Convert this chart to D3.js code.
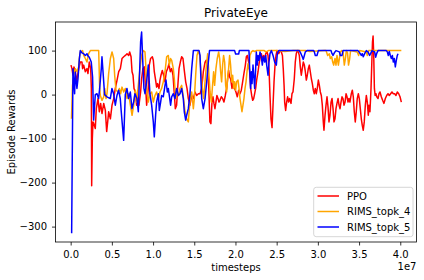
<!DOCTYPE html>
<html>
<head>
<meta charset="utf-8">
<script src="https://cdn.jsdelivr.net/npm/d3@7"></script>
<style>
  body { margin: 0; background: #fff; }
  text { font-family: "DejaVu Sans", sans-serif; }
</style>
</head>
<body>
<script>
// timesteps are in millions, rewards are episode rewards
var ppoSteps = [
  0.04, 0.16, 0.28, 0.40, 0.56, 0.73, 0.97, 1.17, 1.37, 1.45,
  1.58, 1.78, 1.98, 2.10, 2.26, 2.43, 2.51, 2.55, 2.63, 2.71,
  2.79, 2.99, 3.11, 3.32, 3.48, 3.64, 3.80, 4.01, 4.21, 4.37,
  4.53, 4.61, 4.82, 5.02, 5.22, 5.42, 5.63, 5.83, 6.03, 6.23,
  6.44, 6.64, 6.84, 7.04, 7.16, 7.33, 7.45, 7.57, 7.69, 7.85,
  8.00, 8.12, 8.29, 8.49, 8.61, 8.77, 8.93, 9.10, 9.22, 9.42,
  9.54, 9.70, 9.91, 10.03, 10.15, 10.31, 10.43, 10.55, 10.72, 10.84,
  10.96, 11.12, 11.28, 11.45, 11.61, 11.77, 11.93, 12.09, 12.26, 12.42,
  12.58, 12.70, 12.86, 12.98, 13.15, 13.31, 13.47, 13.63, 13.79, 13.96,
  14.12, 14.28, 14.48, 14.69, 14.89, 15.09, 15.29, 15.50, 15.70, 15.90,
  16.10, 16.31, 16.45, 16.60, 16.75, 16.90, 17.02, 17.15, 17.27, 17.39,
  17.51, 17.63, 17.75, 17.88, 18.00, 18.12, 18.28, 18.44, 18.60, 18.77,
  18.93, 19.05, 19.17, 19.29, 19.41, 19.58, 19.74, 19.90, 20.06, 20.22,
  20.39, 20.55, 20.71, 20.87, 21.03, 21.20, 21.32, 21.44, 21.60, 21.72,
  21.84, 21.97, 22.09, 22.21, 22.33, 22.45, 22.57, 22.74, 22.86, 23.02,
  23.14, 23.26, 23.42, 23.55, 23.67, 23.83, 23.95, 24.07, 24.19, 24.31,
  24.44, 24.56, 24.68, 24.80, 24.92, 25.04, 25.25, 25.41, 25.57, 25.70,
  25.80, 25.90, 25.97, 26.09, 26.21, 26.33, 26.45, 26.57, 26.74, 26.86,
  26.98, 27.14, 27.26, 27.38, 27.50, 27.63, 27.75, 27.87, 27.99, 28.11,
  28.23, 28.36, 28.48, 28.60, 28.72, 28.84, 28.96, 29.08, 29.21, 29.33,
  29.45, 29.57, 29.69, 29.81, 29.93, 30.06, 30.18, 30.30, 30.42, 30.54,
  30.66, 30.74, 30.87, 30.99, 31.11, 31.23, 31.35, 31.47, 31.60, 31.72,
  31.84, 31.96, 32.08, 32.20, 32.32, 32.45, 32.57, 32.69, 32.81, 32.93,
  33.05, 33.17, 33.30, 33.42, 33.54, 33.66, 33.77, 33.89, 34.06, 34.18,
  34.30, 34.42, 34.54, 34.66, 34.78, 34.91, 35.03, 35.15, 35.27, 35.39,
  35.51, 35.63, 35.76, 35.88, 36.00, 36.12, 36.20, 36.32, 36.45, 36.55,
  36.63, 36.70, 36.78, 36.86, 36.95, 37.05, 37.15, 37.30, 37.42, 37.54,
  37.70, 37.86, 38.02, 38.19, 38.35, 38.51, 38.67, 38.83, 38.99, 39.16,
  39.32, 39.48, 39.64, 39.81, 39.97, 40.13
];
var ppoReward = [
  67, 59, 44, 63, 52, 29, 59, 74, 74, 59,
  67, 52, 59, 48, 74, 59, 14, -207, -100, -62,
  -65, -77, -32, -9, -39, -20, -43, -20, -36, -84,
  -55, -39, -55, -24, -9, 14, 33, 52, 59, 82,
  86, 89, 93, 89, 97, 86, 52, 44, 14, 6,
  -24, -5, -24, 6, 36, 59, 63, 17, -24, 14,
  67, 82, 86, 78, 52, 33, 17, 25, 14, 33,
  44, 55, 44, 29, 52, 59, 70, 52, 59, 44,
  2, -32, -24, 14, 59, 74, 86, 82, 55, 29,
  14, -9, -24, -2, -9, 6, -2, 2, 2, 14,
  52, 74, 78, 60, 20, -62, -66, -17, -5, -20,
  -32, -17, -2, -9, -17, -13, -5, -9, -17, -2,
  14, 36, 55, 40, 36, 14, 29, 14, 6, -5,
  10, 2, 10, 29, 48, 67, 86, 89, 74, 52,
  14, -2, -13, -9, 2, 14, 33, 52, 70, 86,
  93, 82, 89, 78, 93, 97, 89, 59, -2, -55,
  -75, -24, 29, 67, 89, 100, 93, 100, 97, 89,
  59, 21, -17, -36, -17, -5, -17, -9, -20, 2,
  6, 36, 74, 93, 100, 97, 89, 63, 44, 59,
  74, 67, 52, 33, 44, 59, 67, 52, 36, 25,
  10, 2, 14, 2, 14, 33, 21, 6, -2, -24,
  -62, -81, -47, -24, -5, -28, -62, -47, -17, -9,
  -32, -62, -55, -32, -20, -9, -24, -32, -17, -5,
  -9, -24, -17, 2, -5, -17, -9, -17, 2, 10,
  -5, -39, -62, -39, -9, 2, -9, -32, -55, -70,
  -81, -62, -24, -2, -17, -47, -24, -39, 14, 74,
  120, 133, 89, 14, -2, 2, -5, -9, 2, 6,
  -5, -13, -20, -9, -2, 2, -2, 2, 6, 2,
  2, -2, 6, 2, -5, -17
];

var topk4Steps = [
  0.10, 0.22, 0.36, 0.56, 0.77, 0.97, 1.05, 1.17, 1.45, 1.58,
  1.78, 1.98, 2.18, 2.39, 3.40, 3.52, 3.60, 3.80, 4.01, 4.13,
  4.29, 4.41, 4.61, 4.82, 5.02, 5.22, 5.34, 5.50, 5.75, 5.91,
  6.07, 6.23, 6.44, 6.64, 6.84, 7.04, 7.25, 7.45, 7.65, 7.85,
  8.00, 8.21, 8.41, 8.61, 8.81, 9.02, 9.14, 9.22, 9.42, 9.62,
  9.83, 10.03, 10.23, 10.43, 10.64, 10.84, 11.04, 11.24, 11.45, 11.65,
  11.85, 11.97, 12.13, 12.26, 12.46, 12.58, 12.74, 12.94, 13.07, 13.27,
  13.47, 13.59, 13.75, 13.88, 14.08, 14.28, 14.40, 14.56, 14.69, 14.89,
  15.01, 15.17, 15.33, 15.50, 15.66, 15.82, 15.98, 16.14, 16.31, 16.47,
  16.63, 16.80, 16.92, 17.07, 17.19, 17.35, 17.47, 17.63, 17.79, 17.96,
  18.08, 18.20, 18.32, 18.44, 18.56, 18.69, 18.81, 18.93, 19.05, 19.17,
  19.29, 19.41, 19.54, 19.66, 19.78, 19.90, 20.02, 20.14, 20.31, 20.43,
  20.55, 20.67, 20.79, 20.91, 21.03, 21.16, 21.28, 21.40, 21.52, 21.64,
  21.76, 21.93, 22.13, 22.33, 22.53, 23.50, 23.70, 24.00, 25.00, 26.00,
  27.00, 28.50, 29.00, 30.79, 30.99, 31.19, 31.39, 31.51, 31.68, 31.80,
  31.92, 32.08, 32.20, 32.32, 32.49, 32.61, 32.73, 32.89, 33.05, 33.21,
  33.34, 33.46, 33.60, 33.72, 33.85, 33.97, 34.78, 34.95, 35.07, 35.88,
  36.00, 36.16, 40.13
];
var topk4Reward = [
  -55, 20, 44, 59, 52, 63, 82, 97, 100, 89,
  82, 74, 93, 100, 100, 14, -2, -13, -5, 14,
  -9, 2, 48, 82, 97, 82, 44, 10, 6, 14,
  2, 17, 6, 14, -9, 2, -24, -47, -24, 10,
  -17, 21, 59, 89, 100, 97, 59, 14, -17, 2,
  6, -17, -2, 6, -9, 6, 14, 29, 52, 86,
  89, 67, 82, 78, 59, 36, -9, 2, -2, 14,
  21, 6, -17, -39, -55, -62, -32, -2, 6, -32,
  -9, 44, 89, 100, 89, 52, 14, -9, 29, 67,
  93, 40, 6, -17, 14, 52, 21, 59, 82, 97,
  82, 52, 29, 67, 89, 74, 21, 6, 36, 59,
  89, 67, 29, 44, 14, 29, 10, 29, 33, 14,
  -9, -24, -39, -24, -9, 14, 29, 52, 70, 59,
  89, 97, 100, 98, 100, 100, 97, 100, 100, 98,
  100, 100, 98, 100, 100, 89, 93, 82, 86, 74,
  67, 82, 67, 89, 67, 82, 97, 100, 97, 67,
  82, 100, 95, 67, 80, 100, 97, 89, 100, 97,
  89, 100, 100
];

var topk5Steps = [
  0.12, 0.28, 0.48, 0.56, 0.76, 0.89, 1.05, 1.17, 1.37, 1.58,
  1.78, 1.98, 2.10, 2.26, 2.50, 2.66, 2.79, 2.99, 3.19, 3.39,
  3.52, 3.72, 3.80, 4.12, 4.40, 4.81, 5.01, 5.21, 5.42, 5.62,
  5.82, 6.02, 6.14, 6.43, 6.63, 6.83, 7.03, 7.24, 7.44, 7.64,
  7.80, 8.04, 8.21, 8.37, 8.49, 8.61, 8.77, 8.89, 9.02, 9.22,
  9.42, 9.62, 9.83, 10.03, 10.15, 10.31, 10.43, 10.64, 10.76, 10.92,
  11.04, 11.24, 11.45, 11.57, 11.73, 11.85, 11.97, 12.13, 12.26, 12.46,
  12.66, 12.86, 13.07, 13.27, 13.47, 13.67, 13.79, 13.96, 14.08, 14.28,
  14.48, 14.69, 14.89, 15.58, 15.70, 15.82, 15.90, 16.10, 16.31, 16.51,
  16.71, 16.85, 19.90, 20.02, 20.39, 20.47, 21.64, 21.72, 21.84, 21.93,
  22.01, 22.13, 22.25, 22.33, 22.45, 22.53, 22.65, 22.74, 22.86, 22.98,
  23.14, 23.26, 23.38, 23.55, 23.67, 23.79, 23.95, 24.07, 24.19, 24.36,
  24.56, 24.76, 24.96, 25.08, 25.25, 27.75, 27.95, 28.11, 28.23, 28.36,
  28.48, 28.68, 29.49, 29.57, 29.69, 29.89, 30.06, 31.60, 31.68, 31.84,
  32.00, 32.20, 32.61, 32.73, 32.93, 33.05, 34.87, 34.99, 35.15, 35.27,
  35.39, 35.51, 35.68, 35.88, 36.08, 36.28, 36.40, 36.57, 36.89, 37.01,
  37.13, 37.30, 38.31, 38.43, 38.55, 38.67, 38.79, 38.92, 39.04, 39.16,
  39.28, 39.40, 39.52, 39.64, 39.73
];
var topk5Reward = [
  -315, 59, 2, 51, 14, 36, 80, 100, 95, 93,
  89, 93, 88, 85, 74, 40, -58, 0, 2, -9,
  14, 60, 86, 0, -5, -9, 14, 2, -24, -2,
  10, -9, -39, -104, 0, 14, -9, 6, -32, -17,
  2, -9, -39, 52, 120, 142, 67, 14, 2, 29,
  67, 2, -24, -62, -96, -47, -17, 2, -36, -17,
  -2, -5, 21, 33, 6, 14, -2, -24, -5, 2,
  -9, 14, -2, 2, 14, -9, -39, -58, -47, -32,
  2, 59, 100, 100, 89, 29, -9, -32, -9, 29,
  74, 100, 100, 92, 92, 100, 100, 59, 14, 52,
  25, 67, 36, 14, 59, 97, 67, 89, 78, 97,
  86, 67, 86, 74, 89, 67, 44, 74, 93, 100,
  89, 74, 67, 93, 100, 100, 93, 86, 80, 89,
  97, 100, 100, 97, 89, 89, 100, 100, 95, 89,
  95, 100, 97, 89, 89, 100, 100, 97, 93, 89,
  93, 86, 93, 100, 97, 89, 93, 100, 97, 85,
  93, 100, 100, 97, 89, 98, 89, 82, 89, 74,
  82, 63, 78, 89, 93
];

var seriesNames = ["PPO", "RIMS_topk_4", "RIMS_topk_5"];
var seriesColors = ["red", "orange", "blue"];
var xTicks = [0, 0.5e7, 1e7, 1.5e7, 2e7, 2.5e7, 3e7, 3.5e7, 4e7];
var yTicks = [-300, -200, -100, 0, 100];

var width = 424, height = 280;
var plot = {left: 55.5, right: 416.5, top: 22, bottom: 242};

var svg = d3.select("body").append("svg")
    .attr("width", width)
    .attr("height", height);

var x = d3.scaleLinear().domain([-1.84e6, 41.97e6]).range([plot.left, plot.right]);
var y = d3.scaleLinear().domain([-335, 165]).range([plot.bottom, plot.top]);

function toPoints(steps, rewards) {
  return steps.map(function(s, i) { return {step: s * 1e6, reward: rewards[i]}; });
}
var allSeries = [
  toPoints(ppoSteps, ppoReward),
  toPoints(topk4Steps, topk4Reward),
  toPoints(topk5Steps, topk5Reward)
];

svg.append("clipPath").attr("id", "clip")
  .append("rect")
    .attr("x", plot.left).attr("y", plot.top)
    .attr("width", plot.right - plot.left)
    .attr("height", plot.bottom - plot.top);

var valueline = d3.line()
    .x(function(d) { return x(d.step); })
    .y(function(d) { return y(d.reward); });

allSeries.forEach(function(pts, i) {
  svg.append("path")
      .datum(pts)
      .attr("clip-path", "url(#clip)")
      .attr("d", valueline)
      .attr("fill", "none")
      .attr("stroke", seriesColors[i])
      .attr("stroke-width", 1.5)
      .attr("stroke-linejoin", "round");
});

// axes
var xAxis = svg.append("g")
    .attr("transform", "translate(0," + plot.bottom + ")")
    .call(d3.axisBottom(x).tickValues(xTicks).tickSize(3.5).tickPadding(5.5)
      .tickFormat(function(d) { return (d / 1e7).toFixed(1); }));

var yAxis = svg.append("g")
    .attr("transform", "translate(" + plot.left + ",0)")
    .call(d3.axisLeft(y).tickValues(yTicks).tickSize(3.5).tickPadding(5)
      .tickFormat(function(d) { return d < 0 ? "\u2212" + Math.abs(d) : d; }));

[xAxis, yAxis].forEach(function(g) {
  g.select(".domain").remove();
  g.selectAll(".tick line").attr("stroke", "#000").attr("stroke-width", 0.8);
  g.selectAll(".tick text").attr("fill", "#000")
      .style("font-size", "10px").style("font-family", "DejaVu Sans");
});

svg.append("rect")
    .attr("x", plot.left).attr("y", plot.top)
    .attr("width", plot.right - plot.left)
    .attr("height", plot.bottom - plot.top)
    .attr("fill", "none")
    .attr("stroke", "#000")
    .attr("stroke-width", 0.8);

// labels
svg.append("text")
    .attr("x", (plot.left + plot.right) / 2)
    .attr("y", 17)
    .attr("text-anchor", "middle")
    .style("font-size", "12px")
    .text("PrivateEye");

svg.append("text")
    .attr("x", (plot.left + plot.right) / 2)
    .attr("y", 271)
    .attr("text-anchor", "middle")
    .style("font-size", "10px")
    .text("timesteps");

svg.append("text")
    .attr("x", plot.right)
    .attr("y", 270)
    .attr("text-anchor", "end")
    .style("font-size", "10px")
    .text("1e7");

svg.append("text")
    .attr("transform", "translate(15," + ((plot.top + plot.bottom) / 2) + ") rotate(-90)")
    .attr("text-anchor", "middle")
    .style("font-size", "10px")
    .text("Episode Rewards");

// legend
var legend = svg.append("g");
legend.append("rect")
    .attr("x", 313.7).attr("y", 187.3)
    .attr("width", 99.3).attr("height", 49.4)
    .attr("rx", 2.5)
    .attr("fill", "#fff").attr("fill-opacity", 0.8)
    .attr("stroke", "#cccccc").attr("stroke-width", 0.8);

var rowY = [196, 211.5, 227];
seriesNames.forEach(function(name, i) {
  legend.append("line")
      .attr("x1", 317.5).attr("x2", 339)
      .attr("y1", rowY[i]).attr("y2", rowY[i])
      .attr("stroke", seriesColors[i]).attr("stroke-width", 1.5);
  legend.append("text")
      .attr("x", 347).attr("y", rowY[i] + 3.6)
      .style("font-size", "10px")
      .text(name);
});
</script>
</body>
</html>
